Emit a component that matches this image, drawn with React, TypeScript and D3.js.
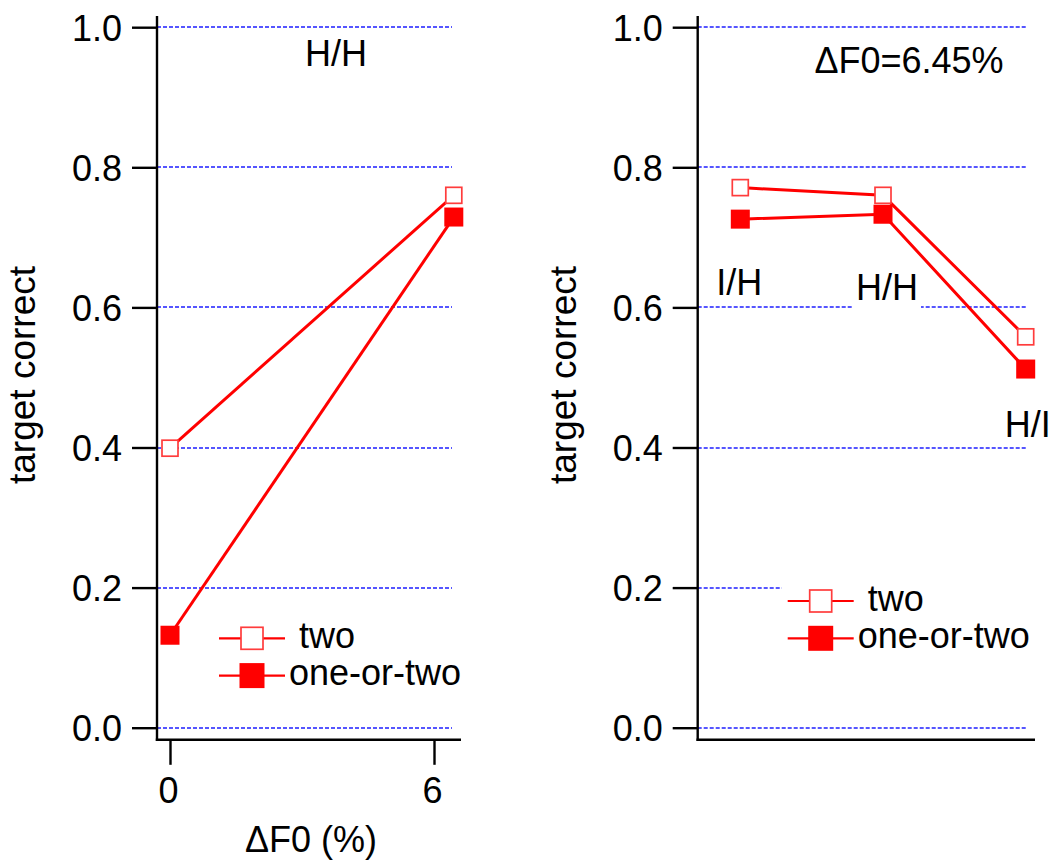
import { useEffect, useRef } from "react";
import * as d3 from "d3";

// data
const yTicks = [0, 0.2, 0.4, 0.6, 0.8, 1.0];
const leftXTicks = [0, 6];
const leftX = [0, 6.45];
const leftTwo = [0.399, 0.76];
const leftOneOrTwo = [0.132, 0.729];
const rightCats = ["I/H", "H/H", "H/I"];
const rightTwo = [0.771, 0.76, 0.558];
const rightOneOrTwo = [0.726, 0.733, 0.512];
const seriesNames = ["two", "one-or-two"];

const FONT = "'Liberation Sans', Arial, Helvetica, sans-serif";
const RED = "#ff0000";
const OPEN_RED = "#ff3c3c";
const GRID = "#5555ff";

export default function App() {
  const ref = useRef(null);

  useEffect(() => {
    const svg = d3.select(ref.current);
    svg.selectAll("*").remove();

    const y = d3.scaleLinear().domain([0, 1]).range([727.7, 27.2]);

    // text with a white box behind it, like the Igor annotations
    const label = (g, txt, x, yy, anchor = "start", size = 36) => {
      const bg = g.append("rect").attr("fill", "#fff");
      const t = g.append("text")
        .attr("x", x).attr("y", yy)
        .attr("text-anchor", anchor)
        .attr("font-family", FONT)
        .attr("font-size", size)
        .attr("fill", "#000")
        .text(txt);
      const b = t.node().getBBox();
      bg.attr("x", b.x - 3).attr("y", b.y).attr("width", b.width + 6).attr("height", b.height);
      return t;
    };

    const drawPanel = (opt) => {
      const g = svg.append("g");
      const { x, axisX, axisRight, gridRight, xs, two, oneTwo } = opt;

      // gridlines
      g.append("g").selectAll("line").data(yTicks).join("line")
        .attr("x1", axisX).attr("x2", gridRight)
        .attr("y1", d => Math.round(y(d))).attr("y2", d => Math.round(y(d)))
        .attr("stroke", GRID).attr("stroke-width", 1.8)
        .attr("stroke-dasharray", "4,2");

      opt.annotate(g);

      // series lines
      const line = d3.line().x(d => x(d[0])).y(d => y(d[1]));
      g.append("path").datum(xs.map((v, i) => [v, two[i]]))
        .attr("d", line).attr("fill", "none").attr("stroke", RED).attr("stroke-width", 3);
      g.append("path").datum(xs.map((v, i) => [v, oneTwo[i]]))
        .attr("d", line).attr("fill", "none").attr("stroke", RED).attr("stroke-width", 3);

      // markers
      const so = 16, sf = 19;
      g.append("g").selectAll("rect").data(xs.map((v, i) => [v, two[i]])).join("rect")
        .attr("x", d => x(d[0]) - so / 2).attr("y", d => y(d[1]) - so / 2)
        .attr("width", so).attr("height", so)
        .attr("fill", "#fff").attr("stroke", OPEN_RED).attr("stroke-width", 1.7);
      g.append("g").selectAll("rect").data(xs.map((v, i) => [v, oneTwo[i]])).join("rect")
        .attr("x", d => x(d[0]) - sf / 2).attr("y", d => y(d[1]) - sf / 2)
        .attr("width", sf).attr("height", sf)
        .attr("fill", RED);

      // legend
      const lg = g.append("g").attr("transform", `translate(${opt.legend[0]},${opt.legend[1]})`);
      lg.append("rect").attr("x", -6).attr("y", -21).attr("width", 262).attr("height", 80).attr("fill", "#fff");
      seriesNames.forEach((name, i) => {
        const ry = i * 37.3;
        lg.append("line").attr("x1", 0).attr("x2", 66).attr("y1", ry).attr("y2", ry)
          .attr("stroke", RED).attr("stroke-width", 2.2);
        if (i === 0) {
          lg.append("rect").attr("x", 33 - 11).attr("y", ry - 11).attr("width", 22).attr("height", 22)
            .attr("fill", "#fff").attr("stroke", OPEN_RED).attr("stroke-width", 1.7);
        } else {
          lg.append("rect").attr("x", 33 - 12.5).attr("y", ry - 12.5).attr("width", 25).attr("height", 25)
            .attr("fill", RED);
        }
        lg.append("text").attr("x", i === 0 ? 80 : 70).attr("y", ry + 9.5)
          .attr("font-family", FONT).attr("font-size", 36).text(name);
      });

      // y axis
      const ya = g.append("g").attr("transform", `translate(${axisX},0)`)
        .call(d3.axisLeft(y).tickValues(yTicks).tickFormat(d3.format(".1f"))
          .tickSize(25).tickPadding(10).tickSizeOuter(0));
      ya.select(".domain").remove();
      ya.selectAll(".tick line").attr("stroke", "#000").attr("stroke-width", 2.4);
      ya.selectAll(".tick text").attr("font-family", FONT).attr("font-size", 36).attr("fill", "#000").attr("dy", "0.36em");
      g.append("line").attr("x1", axisX).attr("x2", axisX).attr("y1", 16).attr("y2", 741)
        .attr("stroke", "#000").attr("stroke-width", 2.4);

      // x axis line
      g.append("line").attr("x1", axisX - 1.2).attr("x2", axisRight).attr("y1", 739.8).attr("y2", 739.8)
        .attr("stroke", "#000").attr("stroke-width", 2.4);

      // y title
      g.append("text")
        .attr("transform", `translate(${opt.yTitleX},375) rotate(-90)`)
        .attr("text-anchor", "middle")
        .attr("font-family", FONT).attr("font-size", 37)
        .text("target correct");

      return g;
    };

    // left panel
    const xl = d3.scaleLinear().domain([0, 6]).range([170, 434]);
    const left = drawPanel({
      x: xl, axisX: 157, axisRight: 461, gridRight: 452,
      xs: leftX, two: leftTwo, oneTwo: leftOneOrTwo,
      legend: [219, 638.3], yTitleX: 35,
      annotate: (g) => {
        label(g, "H/H", 336, 65.7, "middle");
      },
    });
    const xa = left.append("g").attr("transform", "translate(0,739.8)")
      .call(d3.axisBottom(xl).tickValues(leftXTicks).tickFormat(d3.format("d"))
        .tickSize(25).tickPadding(13).tickSizeOuter(0));
    xa.select(".domain").remove();
    xa.selectAll(".tick line").attr("stroke", "#000").attr("stroke-width", 2.4);
    xa.selectAll(".tick text").attr("font-family", FONT).attr("font-size", 36).attr("fill", "#000").attr("dx", "-2");
    left.append("text").attr("x", 311).attr("y", 852).attr("text-anchor", "middle")
      .attr("font-family", FONT).attr("font-size", 36).text("\u0394F0 (%)");

    // right panel
    const xr = d3.scaleLinear().domain([0, 2]).range([740.3, 1025.7]);
    drawPanel({
      x: xr, axisX: 697.7, axisRight: 1035, gridRight: 1026,
      xs: rightCats.map((_, i) => i), two: rightTwo, oneTwo: rightOneOrTwo,
      legend: [787.7, 601], yTitleX: 576,
      annotate: (g) => {
        label(g, "\u0394F0=6.45%", 909, 73.3, "middle");
        label(g, rightCats[0], xr(0) - 1, 295, "middle");
        label(g, rightCats[1], xr(1) + 4, 300, "middle");
        label(g, rightCats[2], xr(2) + 2, 437, "middle");
      },
    });
  }, []);

  return (
    <svg
      ref={ref}
      width={1051}
      height={862}
      style={{ position: "absolute", left: 0, top: 0, background: "#fff" }}
    />
  );
}
